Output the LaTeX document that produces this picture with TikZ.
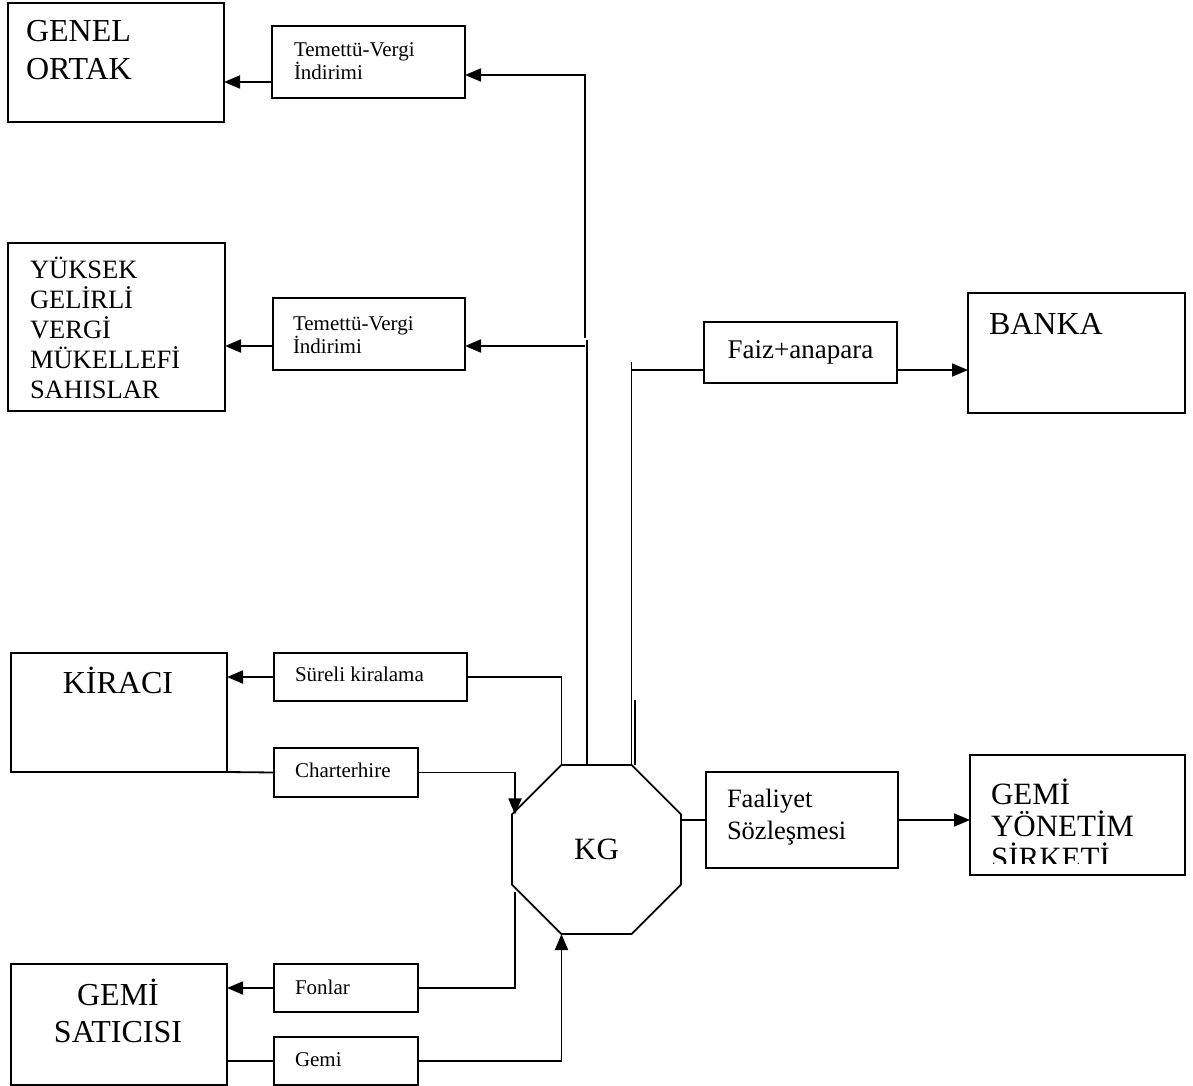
\documentclass[tikz,border=0pt]{standalone}
\usepackage{fontspec}
\setmainfont{Liberation Serif}
\usetikzlibrary{arrows.meta,shapes.geometric,calc}
\newcommand\fBig{\fontsize{32}{32}\selectfont}
\newcommand\fMid{\fontsize{26.5}{26.5}\selectfont}
\newcommand\fSml{\fontsize{21}{21}\selectfont}

\begin{document}
\begin{tikzpicture}[x=1pt,y=-1pt,
  wire/.style={line width=1.8pt},
  arr/.style={line width=1.8pt,-{Triangle[length=16pt,width=13pt]}},
  box/.style={draw,line width=1.8pt,rectangle,inner sep=0pt,outer sep=0pt},
  txt/.style={inner sep=0pt,outer sep=0pt,anchor=base west},
  ctxt/.style={inner sep=0pt,outer sep=0pt,anchor=base},
]
\useasboundingbox (0,0) rectangle (1193,1086);

% ---------- boxes ----------
\node[box,minimum width=216pt,minimum height=119pt] (genel)   at (116,62.5)   {};
\node[box,minimum width=193pt,minimum height=72pt]  (tem1)    at (368.5,62)   {};
\node[box,minimum width=217pt,minimum height=168pt] (yuksek)  at (116.5,327)  {};
\node[box,minimum width=192pt,minimum height=72pt]  (tem2)    at (369,334)    {};
\node[box,minimum width=193pt,minimum height=61pt,font=\fontsize{27}{27}\selectfont]
                                                    (faiz)    at (800.5,352.5) {Faiz+anapara};
\node[box,minimum width=217pt,minimum height=120pt] (banka)   at (1076.5,353) {};
\node[box,minimum width=216pt,minimum height=119pt] (kiraci)  at (119,712.5)  {};
\node[box,minimum width=193pt,minimum height=48pt]  (sureli)  at (370.5,677)  {};
\node[box,minimum width=144pt,minimum height=49pt]  (charter) at (346,772.5)  {};
\node[box,minimum width=192pt,minimum height=96pt]  (faal)    at (802,820)    {};
\node[box,minimum width=215pt,minimum height=120pt] (yonetim) at (1077.5,815)  {};
\node[box,minimum width=216pt,minimum height=121pt] (satici)  at (119,1024.5) {};
\node[box,minimum width=144pt,minimum height=48pt]  (fonlar)  at (346,988)    {};
\node[box,minimum width=144pt,minimum height=48pt]  (gemi)    at (346,1061)   {};

% ---------- the partnership (octagon) ----------
\node[draw,line width=1.8pt,regular polygon,regular polygon sides=8,
      minimum size=183pt,inner sep=0pt,outer sep=0pt,
      font=\fontsize{31}{31}\selectfont] (kg) at (596.5,849.5) {KG};

% ---------- texts ----------
\node[txt,font=\fBig] (genel1) at (26,42) {GENEL};
\node[txt,font=\fBig] (genel2) at (26,80) {ORTAK};

\node[txt,font=\fSml] (tem1a) at (294,57) {Temettü-Vergi};
\node[txt,font=\fSml] (tem1b) at (294,80) {İndirimi};
\node[txt,font=\fSml] (tem2a) at (293,330) {Temettü-Vergi};
\node[txt,font=\fSml] (tem2b) at (293,353) {İndirimi};

\node[txt,font=\fMid] (yk1) at (30,278) {YÜKSEK};
\node[txt,font=\fMid] (yk2) at (30,308) {GELİRLİ};
\node[txt,font=\fMid] (yk3) at (30,338) {VERGİ};
\node[txt,font=\fMid] (yk4) at (30,368) {MÜKELLEFİ};
\node[txt,font=\fMid] (yk5) at (30,398) {SAHISLAR};

\node[txt,font=\fBig] (bankat) at (989,334) {BANKA};

\node[ctxt,font=\fBig] (kiracit) at (118,693) {KİRACI};
\node[txt,font=\fSml] (surelit) at (295,681) {Süreli kiralama};
\node[txt,font=\fSml] (chartert) at (295,777) {Charterhire};

\node[txt,font=\fMid] (faal1) at (727,807) {Faaliyet};
\node[txt,font=\fMid] (faal2) at (727,839) {Sözleşmesi};

% the third line runs past the box and is cut off at its lower edge
\begin{scope}
  \clip (970,755) rectangle (1185,863);
  \node[txt,font=\fontsize{31}{31}\selectfont] (yon1) at (991,804) {GEMİ};
  \node[txt,font=\fontsize{31}{31}\selectfont] (yon2) at (991,836) {YÖNETİM};
  \node[txt,font=\fontsize{31}{31}\selectfont] (yon3) at (991,868) {SİRKETİ};
\end{scope}

\node[ctxt,font=\fBig] (sat1) at (118,1005) {GEMİ};
\node[ctxt,font=\fBig] (sat2) at (118,1042) {SATICISI};
\node[txt,font=\fSml] (fonlart) at (295,994) {Fonlar};
\node[txt,font=\fSml] (gemit) at (295,1066) {Gemi};

% ---------- connector junctions ----------
\coordinate (trunkTop)  at (585,338);
\coordinate (trunkLow)  at (587,340);
\coordinate (bankTop)   at (632,362);
\coordinate (extraTop)  at (635,700);
\coordinate (fundTop)   at (515,892);

% ---------- connectors ----------
% dividend / tax relief flows to the partners
\draw[arr] (trunkTop) -- (trunkTop |- 0,75) -- (tem1.east |- 0,75);
\draw[arr] (tem1.west |- 0,82) -- (genel.east |- 0,82);
\draw[wire] (587,0 |- kg.north) -- (trunkLow);
\draw[arr] (585,346) -- (tem2.east |- 0,346);
\draw[arr] (tem2.west |- 0,346) -- (yuksek.east |- 0,346);

% loan service to the bank
\draw[wire] (kg.corner 1) -- (kg.corner 1 |- bankTop);
\draw[wire] (kg.corner 1 |- 0,370) -- (faiz.west |- 0,370);
\draw[arr] (faiz.east |- 0,370) -- (banka.west |- 0,370);
\draw[wire] (extraTop) -- (extraTop |- kg.north);

% charter relations
\draw[wire] (sureli.east) -- (sureli.east -| kg.corner 2) -- (kg.corner 2);
\draw[arr] (sureli.west) -- (kiraci.east |- sureli.west);
\draw[wire] (kiraci.south east) -- (charter.west);
\draw[arr] (charter.east) -- (charter.east -| 515,0) -- (515,0 |- kg.corner 3);

% management agreement
\draw[wire] (kg.east |- faal.west) -- (faal.west);
\draw[arr] (faal.east) -- (faal.east -| yonetim.west);

% ship purchase
\draw[wire] (fundTop) -- (fundTop |- fonlar.east) -- (fonlar.east);
\draw[arr] (fonlar.west) -- (satici.east |- fonlar.west);
\draw[wire] (satici.east |- gemi.west) -- (gemi.west);
\draw[arr] (gemi.east) -- (gemi.east -| kg.corner 5) -- (kg.corner 5);
\end{tikzpicture}
\end{document}
